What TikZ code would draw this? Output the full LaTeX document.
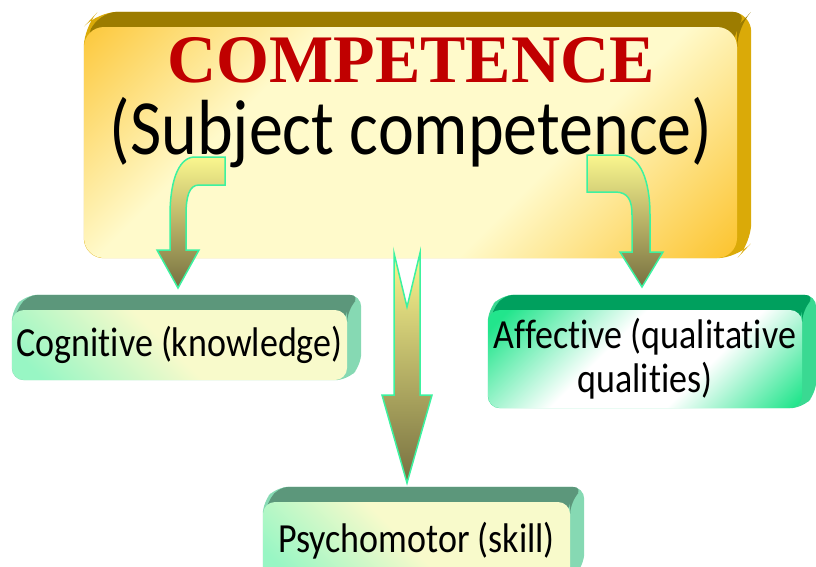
\documentclass[tikz,border=0pt]{standalone}
\usepackage{fontspec}
\usepackage{graphicx}
\setmainfont{Liberation Serif}
\newfontfamily\calibfont[Ligatures=NoCommon]{Carlito}
\usetikzlibrary{positioning, calc, backgrounds}

\definecolor{compred}{HTML}{C00000}
\definecolor{goldA}{HTML}{FCC430}
\definecolor{paleY}{HTML}{FFFACB}
\definecolor{goldtop}{HTML}{9C7C00}
\definecolor{goldside}{HTML}{DAAA08}
\definecolor{mintG}{HTML}{98F6C4}
\definecolor{paleG}{HTML}{F8FACB}
\definecolor{greentop}{HTML}{5C977B}
\definecolor{greenside}{HTML}{86D9B3}
\definecolor{affG}{HTML}{22E58C}
\definecolor{afftop}{HTML}{00A05E}
\definecolor{affside}{HTML}{3AD992}
\definecolor{arrowtop}{HTML}{FAF68E}
\definecolor{arrowbot}{HTML}{777040}
\definecolor{arrowedge}{HTML}{3CF2A0}

\pgfdeclarehorizontalshading{compshade}{100bp}{color(0bp)=(goldA); color(13bp)=(goldA); color(34bp)=(paleY); color(63bp)=(paleY); color(85bp)=(goldA); color(100bp)=(goldA)}
\pgfdeclarehorizontalshading{mintshade}{100bp}{color(0bp)=(mintG); color(20bp)=(mintG); color(48bp)=(paleG); color(100bp)=(paleG)}
\pgfdeclarehorizontalshading{affshade}{100bp}{color(0bp)=(affG); color(18bp)=(affG); color(42bp)=(white); color(62bp)=(white); color(84bp)=(affG); color(100bp)=(affG)}

% stretched Calibri-like text
\newcommand{\tall}[1]{\scalebox{1}[1.15]{#1}}

% extruded back of a box: node, radius (pt), top colour, side colour
\newcommand{\extrude}[4]{%
  \begin{scope}[on background layer]
    \fill[#4, rounded corners=#2pt] (#1.north west) -- ($(#1.north west)+(14,-15)$)
      -- ($(#1.north east)+(14,-15)$) -- ($(#1.south east)+(14,-15)$)
      -- (#1.south east) -- (#1.south west) -- cycle;
    \fill[#3, rounded corners=#2pt] ($(#1.north west)+(0,#2)$) -- ($(#1.north west)+(14,-15)$)
      -- ($(#1.north east)+(14,-15)$) -- (#1.north east)
      -- ($(#1.north east)+(0,#2)$) -- cycle;
  \end{scope}
}

\begin{document}
\begin{tikzpicture}[
		x=1pt, y=-1pt,
		frontbox/.style={rectangle, rounded corners=12pt, inner sep=0pt, align=center,
			font=\calibfont\fontsize{36}{44}\selectfont},
		blockarrow/.style={draw=arrowedge, line width=1.5pt, top color=arrowtop,
			bottom color=arrowbot, line join=miter},
	]
	\useasboundingbox (0,0) rectangle (816,566);

	% -- all boxes --

	\node [rectangle, rounded corners=20pt, shade, shading=compshade, shading angle=-45,
		minimum width=653pt, minimum height=231pt] (comp) at (410.5,142.5) {};
	\extrude{comp}{20}{goldtop}{goldside}
	\node [anchor=base, text=compred, font=\bfseries\fontsize{68}{68}\selectfont]
		(title) at (411,82) {COMPETENCE};
	\node [anchor=base, font=\calibfont\fontsize{68}{68}\selectfont]
		(subtitle) at (411,154) {\tall{(Subject competence)}};

	\node [frontbox, shade, shading=mintshade, shading angle=45,
		minimum width=335pt, minimum height=70pt] (cog) at (179.5,345) {\tall{Cognitive (knowledge)}};
	\extrude{cog}{12}{greentop}{greenside}

	\node [frontbox, shade, shading=affshade, shading angle=-45,
		minimum width=314pt, minimum height=98pt] (aff) at (645,359)
		{\tall{Affective (qualitative}\\\tall{qualities)}};
	\extrude{aff}{12}{afftop}{affside}

	\node [frontbox, shade, shading=mintshade, shading angle=45,
		minimum width=307pt, minimum height=78pt] (psy) at (416.5,541) {\tall{Psychomotor (skill)}};
	\extrude{psy}{12}{greentop}{greenside}

	% -- block arrows --

	\coordinate (cogtip) at (178,288);
	\coordinate (afftip) at (642,287);
	\coordinate (psytail) at (407,255);
	\coordinate (psytip) at (407,483);

	\draw [blockarrow] (225,157) -- (194,157) .. controls (177,158) and (170,185) .. (170,215)
		-- (170,250) -- (157,250) -- (cogtip) -- (199,250) -- (186,250) -- (186,215)
		.. controls (186,197) and (189,185) .. (199,185) -- (225,185) -- cycle;

	\draw [blockarrow] (587,155) -- (622,155) .. controls (640,156) and (650,180) .. (650,215)
		-- (650,252) -- (663,252) -- (afftip) -- (620,252) -- (632,252) -- (632,215)
		.. controls (632,200) and (628,192) .. (615,192) -- (587,192) -- cycle;

	\draw [blockarrow] ($(psytail)+(-13,-2)$) -- ($(psytail)+(0,52)$) -- ($(psytail)+(13,-2)$)
		-- ($(psytail)+(13,140)$) -- ($(psytail)+(25,140)$) -- (psytip)
		-- ($(psytail)+(-25,140)$) -- ($(psytail)+(-13,140)$) -- cycle;
\end{tikzpicture}
\end{document}
